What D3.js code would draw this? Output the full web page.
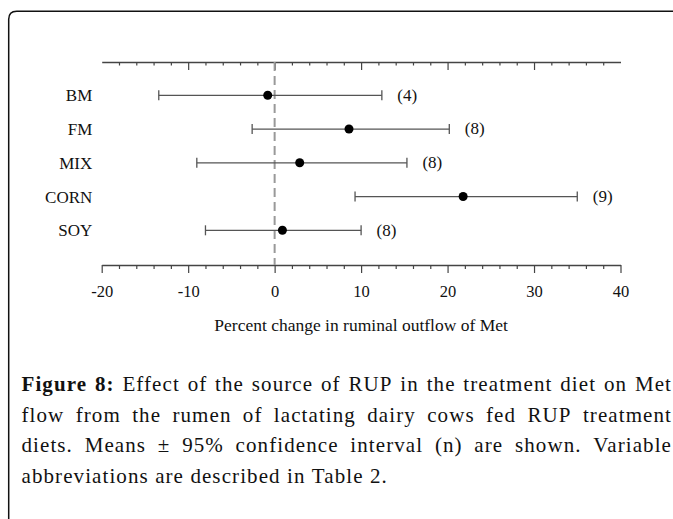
<!DOCTYPE html>
<html>
<head>
<meta content="text/html;charset=utf-8" http-equiv="Content-Type">
<title>Effect of RUP source on Met flow</title>
<script src="https://d3js.org/d3.v7.min.js"></script>
<style>
  body { margin: 0; background: #fff; }
  svg text { font-family: "Liberation Serif", "Times New Roman", serif; }
</style>
</head>
<body>
<script>
    // values
    var diets = ["BM", "FM", "MIX", "CORN", "SOY"];
    var means = [-0.8, 8.6, 2.9, 21.8, 0.9];
    var lowerCI = [-13.4, -2.6, -9.0, 9.3, -8.0];
    var upperCI = [12.4, 20.2, 15.3, 35.0, 10.0];
    var nObs = [4, 8, 8, 9, 8];
    var majorTicks = [-20, -10, 0, 10, 20, 30, 40];
    var minorTicks = d3.range(-18, 40, 2).filter(function(v){ return v % 10 !== 0; });
    var xTitle = "Percent change in ruminal outflow of Met";
    var captionLines = [
        [{t: "Figure", b: true}, {t: "8:", b: true}, "Effect", "of", "the", "source", "of", "RUP", "in", "the", "treatment", "diet", "on", "Met"],
        "flow from the rumen of lactating dairy cows fed RUP treatment".split(" "),
        "diets. Means ± 95% confidence interval (n) are shown. Variable".split(" "),
        "abbreviations are described in Table 2.".split(" ")
    ];

    var W = 673, H = 519;
    var topY = 62, botY = 265;

    var svg = d3.select("body").append("svg")
        .attr("width", W)
        .attr("height", H);

    // frame with rounded top-left corner
    var r = 8;
    svg.append("path")
        .attr("d", "M8.7," + (H + 5) + " L8.7," + (11.3 + r) +
                   " Q8.7,11.3 " + (8.7 + r) + ",11.3 L" + (W + 5) + ",11.3")
        .attr("fill", "none")
        .attr("stroke", "#111")
        .attr("stroke-width", 1.5);

    var x = d3.scaleLinear().domain([-20, 40]).range([101.7, 620.5]);
    var y = d3.scalePoint().domain(diets).range([95.3, 230.3]);

    // top axis: ticks pointing down, no end ticks
    svg.append("g")
        .attr("transform", "translate(0," + topY + ")")
        .call(d3.axisBottom(x).tickValues([-10, 0, 10, 20, 30]).tickSize(8).tickSizeOuter(0).tickFormat(""));
    var topMinor = svg.append("g")
        .attr("transform", "translate(0," + topY + ")")
        .call(d3.axisBottom(x).tickValues(minorTicks).tickSize(3.5).tickSizeOuter(0).tickFormat(""));
    topMinor.select(".domain").remove();

    // bottom axis, plain hyphen minus like the original
    var botMajor = svg.append("g")
        .attr("transform", "translate(0," + botY + ")")
        .call(d3.axisBottom(x).tickValues(majorTicks).tickSize(8).tickSizeOuter(0).tickPadding(12)
            .tickFormat(function(d){ return String(d); }));
    var botMinor = svg.append("g")
        .attr("transform", "translate(0," + botY + ")")
        .call(d3.axisBottom(x).tickValues(minorTicks).tickSize(4).tickSizeOuter(0).tickFormat(""));
    botMinor.select(".domain").remove();

    svg.selectAll(".domain").attr("stroke", "#444").attr("stroke-width", 1.5);
    svg.selectAll(".tick line").attr("stroke", "#444").attr("stroke-width", 1.2);
    botMajor.selectAll(".tick text")
        .attr("font-size", 16.5)
        .attr("fill", "#111")
        .attr("dy", "0.75em");

    // zero reference line
    svg.append("line")
        .attr("x1", x(0)).attr("x2", x(0))
        .attr("y1", topY).attr("y2", botY)
        .attr("stroke", "#999")
        .attr("stroke-width", 2)
        .attr("stroke-dasharray", "9,5");

    // x axis title
    svg.append("text")
        .attr("x", x(10))
        .attr("y", 331)
        .attr("text-anchor", "middle")
        .attr("font-size", 17.5)
        .attr("fill", "#111")
        .text(xTitle);

    // rows
    diets.forEach(function(d, i){
        var cy = y(d);
        svg.append("text")
            .attr("x", 92.3)
            .attr("y", cy)
            .attr("dy", "0.35em")
            .attr("text-anchor", "end")
            .attr("font-size", 17)
            .attr("fill", "#111")
            .text(d);

        svg.append("line")
            .attr("x1", x(lowerCI[i])).attr("x2", x(upperCI[i]))
            .attr("y1", cy).attr("y2", cy)
            .attr("stroke", "#555").attr("stroke-width", 1.3);
        [lowerCI[i], upperCI[i]].forEach(function(v){
            svg.append("line")
                .attr("x1", x(v)).attr("x2", x(v))
                .attr("y1", cy - 5).attr("y2", cy + 5)
                .attr("stroke", "#555").attr("stroke-width", 1.3);
        });

        svg.append("circle")
            .attr("cx", x(means[i]))
            .attr("cy", cy)
            .attr("r", 4.5)
            .attr("fill", "#000");

        svg.append("text")
            .attr("x", x(upperCI[i]) + 15.5)
            .attr("y", cy)
            .attr("dy", "0.32em")
            .attr("font-size", 17)
            .attr("fill", "#111")
            .text("(" + nObs[i] + ")");
    });

    // caption, justified by spreading the word gaps
    var capLeft = 21.5, capRight = 672, capSize = 21, lastLineWidth = 366;
    var baselines = [391, 421.5, 452, 482.5];

    // letter spacing chosen so the last (unjustified) line has the original width
    var probe = svg.append("text").attr("font-size", capSize).text(captionLines[3].join(" "));
    var probeLen = probe.node().getComputedTextLength();
    probe.remove();
    var nChars = captionLines[3].join(" ").length;
    var capSpacing = Math.max(0, (lastLineWidth - probeLen) / nChars);

    captionLines.forEach(function(words, li){
        var items = words.map(function(w){
            var t = typeof w === "string" ? {t: w, b: false} : w;
            var node = svg.append("text")
                .attr("y", baselines[li])
                .attr("font-size", capSize)
                .attr("letter-spacing", capSpacing)
                .attr("font-weight", t.b ? "bold" : "normal")
                .attr("fill", "#111")
                .text(t.t);
            return {node: node, w: node.node().getComputedTextLength()};
        });
        var total = d3.sum(items, function(d){ return d.w; });
        var gap = li < captionLines.length - 1
            ? (capRight - capLeft - total) / (items.length - 1)
            : capSize * 0.25 + capSpacing;
        var cx = capLeft;
        items.forEach(function(it){
            it.node.attr("x", cx);
            cx += it.w + gap;
        });
    });
</script>
</body>
</html>
